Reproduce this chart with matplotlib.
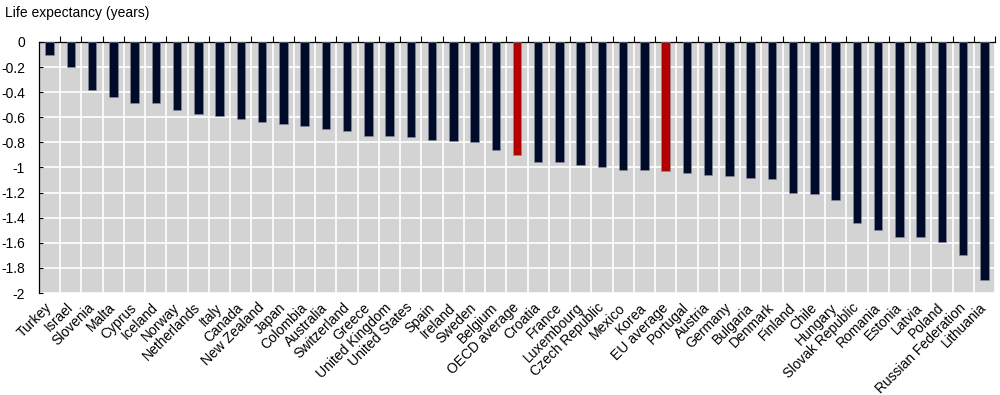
import matplotlib
matplotlib.use("Agg")
from matplotlib import pyplot as plt
from matplotlib.ticker import FixedLocator, FuncFormatter
from matplotlib.transforms import ScaledTranslation
import numpy as np

plt.rcParams["font.family"] = ["Liberation Sans", "DejaVu Sans"]

countries = [
    "Turkey", "Israel", "Slovenia", "Malta", "Cyprus", "Iceland", "Norway",
    "Netherlands", "Italy", "Canada", "New Zealand", "Japan", "Colombia",
    "Australia", "Switzerland", "Greece", "United Kingdom", "United States",
    "Spain", "Ireland", "Sweden", "Belgium", "OECD average", "Croatia",
    "France", "Luxembourg", "Czech Republic", "Mexico", "Korea", "EU average",
    "Portugal", "Austria", "Germany", "Bulgaria", "Denmark", "Finland", "Chile",
    "Hungary", "Slovak Republic", "Romania", "Estonia", "Latvia", "Poland",
    "Russian Federation", "Lithuania",
]
change = [
    -0.10, -0.20, -0.38, -0.44, -0.49, -0.49, -0.54,
    -0.57, -0.59, -0.61, -0.64, -0.65, -0.67,
    -0.69, -0.71, -0.75, -0.75, -0.76,
    -0.78, -0.79, -0.80, -0.86, -0.90, -0.96,
    -0.96, -0.98, -1.00, -1.02, -1.02, -1.03,
    -1.04, -1.06, -1.07, -1.08, -1.09, -1.20, -1.21,
    -1.26, -1.44, -1.50, -1.55, -1.55, -1.59,
    -1.70, -1.90,
]
highlight = ["OECD average", "EU average"]

navy = "#000b29"
red = "#b30000"

fig = plt.figure(figsize=(10, 3.95), dpi=100)
ax = fig.add_axes([0.039, 0.2582, 0.956, 0.6355])
ax.set_facecolor("#d3d3d3")

x = np.arange(len(countries))
colors = [red if c in highlight else navy for c in countries]
ax.bar(x, change, width=0.4, color=colors, edgecolor="#8a8f9c", linewidth=0.4, zorder=3)

ax.set_xlim(-0.5, len(countries) - 0.5)
ax.set_ylim(-2, 0)

# y axis, plain hyphen labels like -0.2, -1
yt = np.round(np.arange(-2, 0.01, 0.2), 1)
ax.yaxis.set_major_locator(FixedLocator(yt))
ax.yaxis.set_major_formatter(FuncFormatter(lambda v, p: "0" if abs(v) < 1e-9 else f"{v:g}"))
ax.tick_params(axis="y", direction="in", length=3, width=0.8, pad=10, labelsize=10)

# x axis: labels at bottom, boundary ticks on top
ax.set_xticks(x)
ax.set_xticklabels(countries, rotation=45, ha="right", va="center", rotation_mode="anchor", fontsize=10)
shift = ScaledTranslation(3 / 100, 0, fig.dpi_scale_trans)
for lbl in ax.get_xticklabels():
    lbl.set_transform(lbl.get_transform() + shift)
ax.xaxis.set_minor_locator(FixedLocator(np.arange(0.5, len(countries) + 0.5, 1)))
ax.tick_params(axis="x", which="major", length=0, pad=9)
ax.tick_params(axis="x", which="minor", top=True, bottom=False, direction="out", length=4, width=0.8)

ax.grid(True, axis="y", which="major", color="white", linewidth=1.2, zorder=1)
ax.grid(True, axis="x", which="minor", color="white", linewidth=1.2, zorder=1)
ax.set_axisbelow(True)

for s in ["right", "bottom"]:
    ax.spines[s].set_visible(False)
ax.spines["top"].set_linewidth(0.9)
ax.spines["left"].set_linewidth(0.9)

fig.text(0.005, 0.985, "Life expectancy (years)", ha="left", va="top", fontsize=10)

fig.savefig("out.png", dpi=100)
